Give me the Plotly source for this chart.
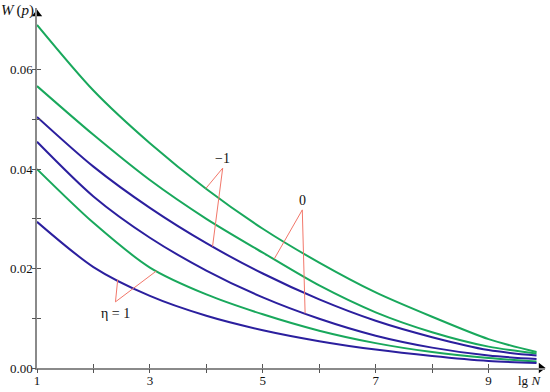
import numpy as np
import plotly.graph_objects as go

# lg N values where the curves were read
lg_n = [1, 2, 3, 4, 5, 6, 7, 8, 9, 9.85]

# W(p) curves (green / blue pairs for each eta)
green_eta_m1 = [0.0690, 0.0558, 0.0452, 0.0360, 0.0280, 0.0212, 0.0152, 0.0103, 0.0058, 0.0032]
blue_eta_m1 = [0.0505, 0.0405, 0.0322, 0.0251, 0.0190, 0.0138, 0.0095, 0.0062, 0.0036, 0.0025]
green_eta_0 = [0.0567, 0.0469, 0.0378, 0.0300, 0.0232, 0.0166, 0.0112, 0.0072, 0.0043, 0.0029]
blue_eta_0 = [0.0455, 0.0345, 0.0262, 0.0196, 0.0142, 0.0099, 0.0065, 0.0041, 0.0025, 0.0018]
green_eta_1 = [0.0400, 0.0292, 0.0202, 0.0148, 0.0108, 0.0075, 0.0050, 0.0032, 0.0020, 0.0013]
blue_eta_1 = [0.0294, 0.0203, 0.0145, 0.0105, 0.0076, 0.0054, 0.0037, 0.0024, 0.0014, 0.0010]

x_tickvals = [1, 2, 3, 4, 5, 6, 7, 8, 9]
x_ticktext = ["1", "", "3", "", "5", "", "7", "", "9"]
y_tickvals = [0.0, 0.01, 0.02, 0.03, 0.04, 0.05, 0.06]
y_ticktext = ["0.00", "", "0.02", "", "0.04", "", "0.06"]

X_RANGE = [1, 10]
Y_RANGE = [0, 0.0724]

GREEN = "#19a85c"
BLUE = "#2b1f9e"
POINTER = "#f2776a"
AXIS = "#8a8a8a"
SERIF = "Liberation Serif"
TEXT = "#111111"

fig = go.Figure()

curves = [
    (green_eta_m1, GREEN), (green_eta_0, GREEN), (blue_eta_m1, BLUE),
    (blue_eta_0, BLUE), (green_eta_1, GREEN), (blue_eta_1, BLUE),
]
for ys, color in curves:
    fig.add_trace(go.Scatter(
        x=lg_n, y=ys, mode="lines", line=dict(color=color, width=2, shape="spline", smoothing=0.8),
        hoverinfo="skip", showlegend=False,
    ))

# pointer lines: (label apex, [(curve, x on curve), ...])
pointers = [
    ((4.29, 0.0402), [(green_eta_m1, 3.99), (blue_eta_m1, 4.11)]),
    ((5.70, 0.0318), [(green_eta_0, 5.20), (blue_eta_0, 5.75)]),
    ((2.39, 0.0133), [(blue_eta_1, 2.43), (green_eta_1, 3.12)]),
]
for (ax, ay), targets in pointers:
    for ys, xt in targets:
        yt = float(np.interp(xt, lg_n, ys))
        fig.add_trace(go.Scatter(
            x=[ax, xt], y=[ay, yt], mode="lines", line=dict(color=POINTER, width=1),
            hoverinfo="skip", showlegend=False,
        ))

# axis arrowheads
fig.add_trace(go.Scatter(
    x=[X_RANGE[1] - 0.07], y=[0], mode="markers", cliponaxis=False,
    marker=dict(symbol="triangle-right", size=9, color="black"), hoverinfo="skip", showlegend=False,
))
fig.add_trace(go.Scatter(
    x=[1], y=[Y_RANGE[1] - 0.0012], mode="markers", cliponaxis=False,
    marker=dict(symbol="triangle-up", size=9, color="black"), hoverinfo="skip", showlegend=False,
))

# dummy trace for the overlay axes that draw the outer half of the ticks
fig.add_trace(go.Scatter(x=[None], y=[None], xaxis="x2", yaxis="y2", showlegend=False))

tick_font = dict(family=SERIF, size=13, color=TEXT)
axis_common = dict(showgrid=False, zeroline=False, showline=True, linecolor=AXIS, linewidth=1.5,
                   ticks="inside", ticklen=4, tickwidth=1, tickcolor="#555", tickfont=tick_font,
                   automargin=False)
overlay_common = dict(showgrid=False, zeroline=False, showticklabels=False, ticks="outside", ticklen=4,
                      tickwidth=1, tickcolor="#555", automargin=False)

fig.update_layout(
    width=550, height=392,
    margin=dict(l=37, r=5, t=8, b=24, autoexpand=False),
    paper_bgcolor="white", plot_bgcolor="white",
    font=dict(family=SERIF),
    xaxis=dict(range=X_RANGE, tickvals=x_tickvals, ticktext=x_ticktext, **axis_common),
    yaxis=dict(range=Y_RANGE, tickvals=y_tickvals, ticktext=y_ticktext, **axis_common),
    xaxis2=dict(range=X_RANGE, overlaying="x", anchor="y", side="bottom", tickvals=x_tickvals, **overlay_common),
    yaxis2=dict(range=Y_RANGE, overlaying="y", anchor="x", side="left", tickvals=y_tickvals, **overlay_common),
)

label_font = dict(family=SERIF, size=14, color=TEXT)
fig.add_annotation(x=4.29, y=0.0402, text="\u22121", showarrow=False, yanchor="bottom", font=label_font)
fig.add_annotation(x=5.70, y=0.0318, text="0", showarrow=False, yanchor="bottom", font=label_font)
fig.add_annotation(x=2.39, y=0.0128, text="\u03b7 = 1", showarrow=False, yanchor="top", font=label_font)

fig.add_annotation(x=0, y=1, xref="paper", yref="paper", xanchor="right", yanchor="middle", xshift=-1, yshift=-2,
                   text="<i>W</i>\u2009(<i>p</i>)", showarrow=False, font=dict(family=SERIF, size=15, color=TEXT))
fig.add_annotation(x=1, y=0, xref="paper", yref="paper", xanchor="right", yanchor="top", yshift=-3, xshift=-2,
                   text="lg <i>N</i>", showarrow=False, font=dict(family=SERIF, size=13, color=TEXT))

# drop the default page margin so the figure sits at the window's corner
fig.write_html("out.html", config={"displayModeBar": False},
               post_script="document.body.style.margin = '0';")
